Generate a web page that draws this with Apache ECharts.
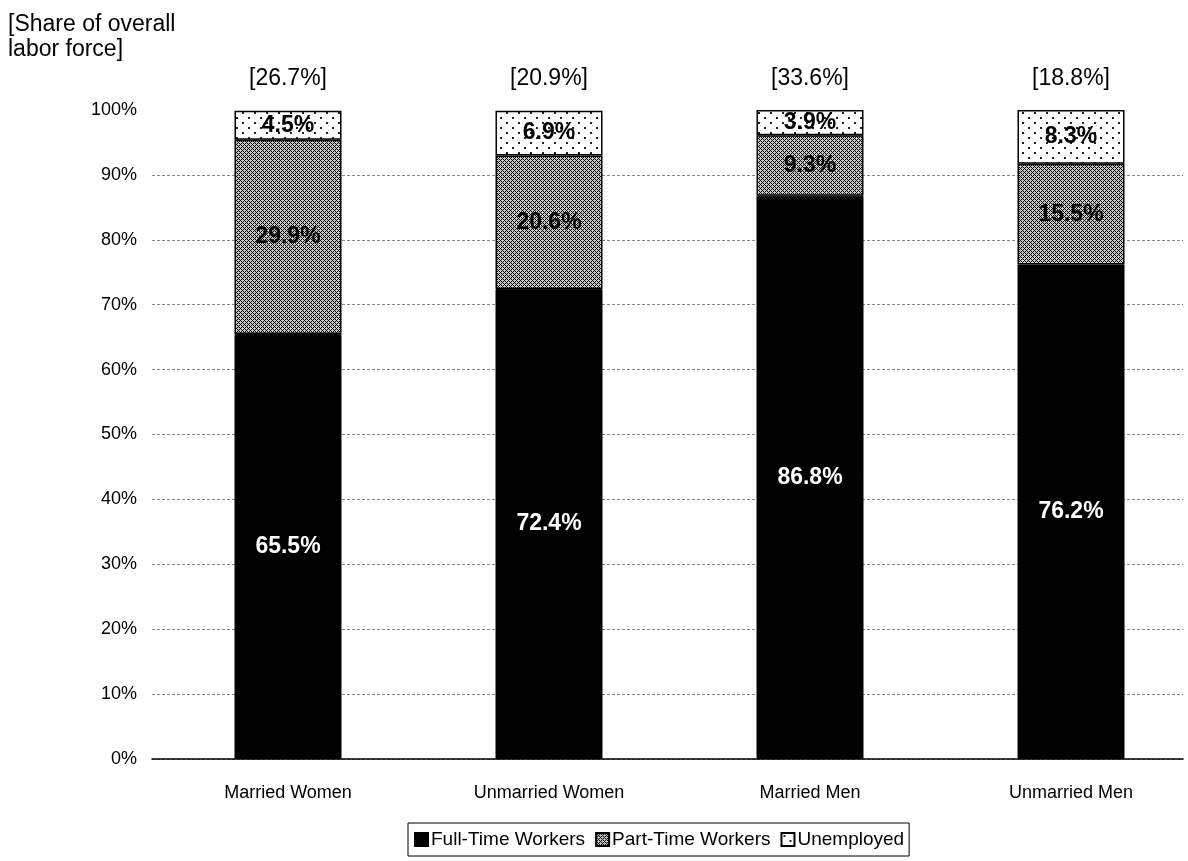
<!DOCTYPE html>
<html>
<head>
<meta charset="utf-8">
<script src="https://cdn.jsdelivr.net/npm/echarts@6/dist/echarts.min.js"></script>
<style>
  html, body { margin: 0; padding: 0; background: #fff; }
  #chart { width: 1188px; height: 861px; }
</style>
</head>
<body>
<div id="chart"></div>
<script>
// Labor force composition by marital status and sex
const categories = ['Married Women', 'Unmarried Women', 'Married Men', 'Unmarried Men'];
const fullTime   = [65.5, 72.4, 86.8, 76.2];
const partTime   = [29.9, 20.6, 9.3, 15.5];
const unemployed = [4.5, 6.9, 3.9, 8.3];
const laborShare = [26.7, 20.9, 33.6, 18.8];   // share of overall labor force
const seriesNames = ['Full-Time Workers', 'Part-Time Workers', 'Unemployed'];

const FONT = "'Liberation Sans', Arial, sans-serif";

// Fill patterns
function hatchPattern() {
  const c = document.createElement('canvas');
  c.width = 8; c.height = 8;
  const g = c.getContext('2d');
  g.fillStyle = '#c8c8c8';
  g.fillRect(0, 0, 8, 8);
  g.fillStyle = '#000';
  for (let x = 0; x < 8; x++) {
    for (let y = 0; y < 8; y++) {
      if ((x + y) % 4 === 0 || ((x - y) % 4 + 4) % 4 === 0) g.fillRect(x, y, 1, 1);
    }
  }
  return c;
}
function dotPattern() {
  const c = document.createElement('canvas');
  c.width = 12; c.height = 10;
  const g = c.getContext('2d');
  g.fillStyle = '#fff';
  g.fillRect(0, 0, 12, 10);
  g.fillStyle = '#222';
  g.fillRect(2, 2, 2, 2);
  g.fillRect(8, 7, 2, 2);
  return c;
}

const totals = categories.map((_, i) => fullTime[i] + partTime[i] + unemployed[i]);

const chart = echarts.init(document.getElementById('chart'), null, { renderer: 'canvas' });

const pctLabel = (color) => ({
  show: true,
  position: 'inside',
  color: color,
  fontFamily: FONT,
  fontWeight: 'bold',
  fontSize: 23,
  formatter: p => p.value.toFixed(1) + '%'
});

const barCommon = {
  type: 'bar',
  stack: 'total',
  xAxisIndex: 1,
  yAxisIndex: 1,
  barWidth: 107,
  barGap: '-100%',
  clip: false,
  emphasis: { disabled: true }
};

chart.setOption({
  animation: false,
  backgroundColor: '#fff',
  textStyle: { fontFamily: FONT, color: '#000' },
  title: {
    text: '[Share of overall\nlabor force]',
    left: 3,
    top: 7,
    textStyle: { fontFamily: FONT, fontSize: 23, fontWeight: 'normal', color: '#000', lineHeight: 25 }
  },
  grid: [
    // frame: value axis, gridlines and baseline
    { left: 152, right: 5, top: 110, bottom: 102 },
    // bars: category points placed at the bar centres
    { left: 288, right: 117, top: 110, bottom: 102 }
  ],
  xAxis: [
    {
      gridIndex: 0,
      type: 'category',
      data: categories,
      axisLine: { lineStyle: { color: '#000', width: 1.5 } },
      axisTick: { show: false },
      axisLabel: { show: false }
    },
    {
      gridIndex: 1,
      type: 'category',
      data: categories,
      boundaryGap: false,
      axisLine: { show: false },
      axisTick: { show: false },
      axisLabel: { interval: 0, margin: 25, fontFamily: FONT, fontSize: 18, color: '#000' }
    }
  ],
  yAxis: [
    {
      gridIndex: 0,
      type: 'value',
      min: 0,
      max: 100,
      interval: 10,
      axisLine: { show: false },
      axisTick: { show: false },
      axisLabel: { formatter: '{value}%', fontFamily: FONT, fontSize: 18, color: '#000', margin: 15 },
      splitLine: { showMaxLine: false, lineStyle: { color: '#8a8a8a', type: [3, 2], width: 1 } }
    },
    {
      gridIndex: 1,
      type: 'value',
      min: 0,
      max: 100,
      show: false
    }
  ],
  legend: {
    data: seriesNames,
    left: 408,
    top: 823,
    icon: 'rect',
    itemWidth: 13,
    itemHeight: 13,
    itemGap: 10,
    padding: [7, 5, 7, 6],
    borderColor: '#000',
    borderWidth: 1,
    textStyle: { fontFamily: FONT, fontSize: 19, color: '#000', padding: [0, 0, 0, -2] },
    selectedMode: false
  },
  series: [
    Object.assign({}, barCommon, {
      name: seriesNames[0],
      data: fullTime,
      itemStyle: { color: '#000', borderColor: '#000', borderWidth: 1 },
      label: pctLabel('#fff')
    }),
    Object.assign({}, barCommon, {
      name: seriesNames[1],
      data: partTime,
      itemStyle: { color: { image: hatchPattern(), repeat: 'repeat' }, borderColor: '#000', borderWidth: 1.5 },
      label: pctLabel('#000')
    }),
    Object.assign({}, barCommon, {
      name: seriesNames[2],
      data: unemployed,
      itemStyle: { color: { image: dotPattern(), repeat: 'repeat' }, borderColor: '#000', borderWidth: 1.5 },
      label: pctLabel('#000')
    }),
    // bracketed share of overall labor force above each bar
    {
      type: 'bar',
      name: 'share',
      xAxisIndex: 1,
      yAxisIndex: 1,
      barWidth: 107,
      barGap: '-100%',
      clip: false,
      data: totals,
      silent: true,
      itemStyle: { color: 'rgba(0,0,0,0)' },
      label: {
        show: true,
        position: 'top',
        distance: 20,
        fontFamily: FONT,
        fontSize: 23,
        color: '#000',
        formatter: p => '[' + laborShare[p.dataIndex].toFixed(1) + '%]'
      },
      z: 1
    }
  ]
});
</script>
</body>
</html>
